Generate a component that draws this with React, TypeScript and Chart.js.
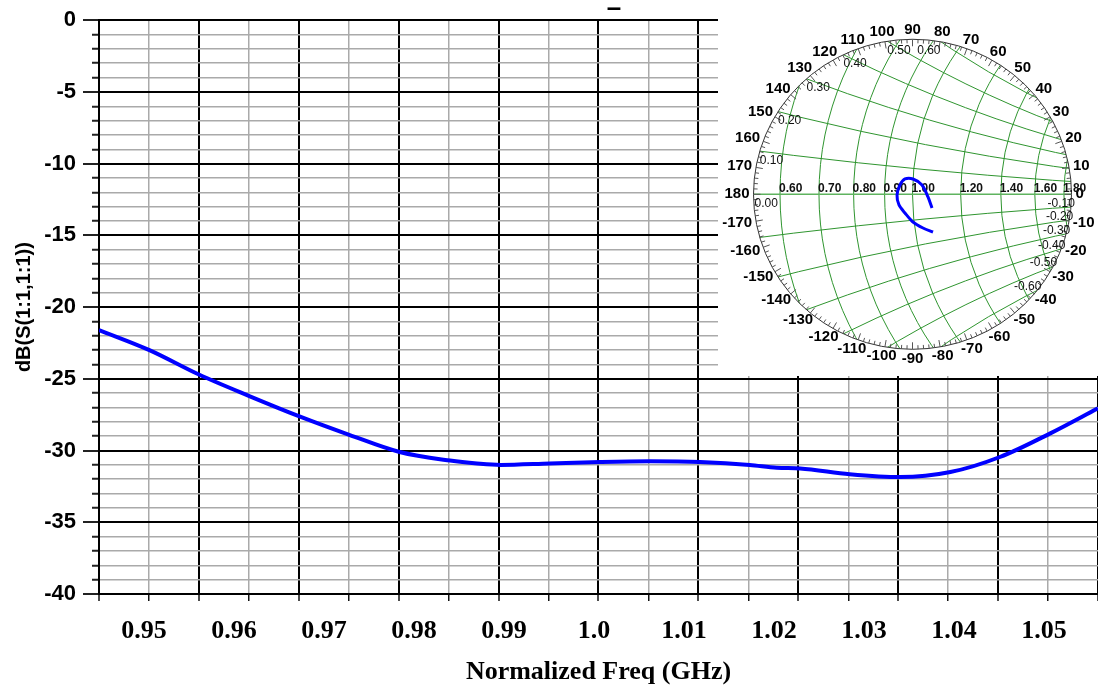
import React, { useEffect, useRef } from 'react';
import { Chart, registerables } from 'chart.js';

Chart.register(...registerables);

// ---- Main plot data: return loss vs normalized frequency ----
const freqGHz = [0.945, 0.9506, 0.9561, 0.9617, 0.9672, 0.9728, 0.9784, 0.984, 0.987, 0.9896, 0.9951, 1.0007, 1.0062, 1.0118, 1.0173, 1.0203, 1.0229, 1.0284, 1.034, 1.0396, 1.0451, 1.0507, 1.056];
const s11dB = [-21.6, -23.0, -24.7, -26.2, -27.6, -28.9, -30.1, -30.7, -30.9, -31.0, -30.9, -30.8, -30.75, -30.8, -31.0, -31.2, -31.25, -31.65, -31.85, -31.5, -30.45, -28.8, -27.05];

const xTickValues = [0.95, 0.96, 0.97, 0.98, 0.99, 1.0, 1.01, 1.02, 1.03, 1.04, 1.05];
const xTickLabels = ['0.95', '0.96', '0.97', '0.98', '0.99', '1.0', '1.01', '1.02', '1.03', '1.04', '1.05'];
const yMajorTicks = [0, -5, -10, -15, -20, -25, -30, -35, -40];
const X_MIN = 0.945;
const X_MAX = 1.056;
const Y_MIN = -40;
const Y_MAX = 0;

// ---- Smith chart inset data (reflection coefficient, real / imaginary) ----
const smithRe = [0.0387, 0.0198, 0.0009, -0.0142, -0.0255, -0.0292, -0.0236, -0.0142, 0.0009, 0.0179, 0.0292, 0.0368];
const smithIm = [-0.0730, -0.0652, -0.0536, -0.0362, -0.0207, -0.0014, 0.0180, 0.0296, 0.0296, 0.0180, -0.0052, -0.0265];
const resistanceValues = [0.6, 0.7, 0.8, 0.9, 1.0, 1.2, 1.4, 1.6, 1.8];
const resistanceLabels = ['0.60', '0.70', '0.80', '0.90', '1.00', '1.20', '1.40', '1.60', '1.80'];
const reactanceValues = [0.1, 0.2, 0.3, 0.4, 0.5, 0.6];
const reactanceLabels = ['0.10', '0.20', '0.30', '0.40', '0.50', '0.60'];
const SMITH_RIM = 0.3;

const SERIF = '"Liberation Serif", "Times New Roman", serif';
const SANS = '"Liberation Sans", Arial, sans-serif';

const topMarkPlugin = {
  id: 'topMark',
  afterDraw(chart: any) {
    const { ctx } = chart;
    ctx.save();
    ctx.fillStyle = '#000';
    ctx.font = `bold 26px ${SANS}`;
    ctx.textAlign = 'center';
    ctx.textBaseline = 'alphabetic';
    ctx.fillText('\u2013', 614, 16);
    ctx.restore();
  },
};

function rimIntersections(xv: number) {
  // circle of constant reactance meets |G| = RIM where u + v/x = (1 + RIM^2)/2
  const c = (1 + SMITH_RIM * SMITH_RIM) / 2;
  const a = SMITH_RIM;
  const b = SMITH_RIM / xv;
  const amp = Math.sqrt(a * a + b * b);
  const phi = Math.atan2(a, b);
  const s = Math.asin(Math.min(1, c / amp));
  return [s - phi, Math.PI - s - phi];
}

const smithGridPlugin = {
  id: 'smithGrid',
  beforeDraw(chart: any) {
    const { ctx, width, height } = chart;
    ctx.save();
    ctx.fillStyle = '#fff';
    ctx.fillRect(0, 0, width, height);
    ctx.restore();
  },
  beforeDatasetsDraw(chart: any) {
    const { ctx } = chart;
    const xs = chart.scales.x;
    const ys = chart.scales.y;
    const cx = xs.getPixelForValue(0);
    const cy = ys.getPixelForValue(0);
    const kx = xs.getPixelForValue(1) - cx;
    const ky = cy - ys.getPixelForValue(1);
    const P = (u: number, v: number) => [cx + u * kx, cy - v * ky];
    const Rx = SMITH_RIM * kx;
    const Ry = SMITH_RIM * ky;

    ctx.save();
    ctx.beginPath();
    ctx.ellipse(cx, cy, Rx, Ry, 0, 0, Math.PI * 2);
    ctx.clip();
    ctx.strokeStyle = '#2f952f';
    ctx.lineWidth = 1;
    resistanceValues.forEach((r) => {
      const [px, py] = P(r / (1 + r), 0);
      const rad = 1 / (1 + r);
      ctx.beginPath();
      ctx.ellipse(px, py, rad * kx, rad * ky, 0, 0, Math.PI * 2);
      ctx.stroke();
    });
    reactanceValues.forEach((xv) => {
      [xv, -xv].forEach((x) => {
        const [px, py] = P(1, 1 / x);
        const rad = 1 / Math.abs(x);
        ctx.beginPath();
        ctx.ellipse(px, py, rad * kx, rad * ky, 0, 0, Math.PI * 2);
        ctx.stroke();
      });
    });
    ctx.lineWidth = 1.6;
    ctx.strokeStyle = '#5fb35f';
    ctx.beginPath();
    ctx.moveTo(cx - Rx, cy);
    ctx.lineTo(cx + Rx, cy);
    ctx.stroke();
    ctx.restore();

    // rim and its ticks
    ctx.save();
    ctx.strokeStyle = '#333';
    ctx.lineWidth = 1;
    ctx.beginPath();
    ctx.ellipse(cx, cy, Rx, Ry, 0, 0, Math.PI * 2);
    ctx.stroke();
    ctx.strokeStyle = '#555';
    for (let d = 0; d < 360; d += 2) {
      const t = (d * Math.PI) / 180;
      const len = d % 10 === 0 ? 7 : 4;
      const c = Math.cos(t);
      const s = Math.sin(t);
      ctx.beginPath();
      ctx.moveTo(cx + Rx * c, cy - Ry * s);
      ctx.lineTo(cx + (Rx - len) * c, cy - (Ry - len) * s);
      ctx.stroke();
    }
    // angle labels
    ctx.fillStyle = '#000';
    ctx.font = `bold 15px ${SANS}`;
    ctx.textAlign = 'center';
    ctx.textBaseline = 'middle';
    for (let d = -170; d <= 180; d += 10) {
      const t = (d * Math.PI) / 180;
      const c = Math.cos(t);
      const s = Math.sin(t);
      const label = String(d);
      const w = ctx.measureText(label).width;
      const x = cx + (Rx + 4) * c + (c * w) / 2;
      const y = cy - (Ry + 4) * s - (s * 11) / 2;
      ctx.fillText(label, x, y);
    }
    // resistance labels
    ctx.font = `bold 12px ${SANS}`;
    ctx.fillStyle = '#111';
    ctx.textAlign = 'left';
    ctx.textBaseline = 'alphabetic';
    resistanceValues.forEach((r, i) => {
      const u = (r - 1) / (r + 1);
      const [px, py] = P(u, 0);
      ctx.fillText(resistanceLabels[i], px - 1, py - 2);
    });
    // reactance labels
    ctx.font = `12px ${SANS}`;
    ctx.fillText('0.00', cx - Rx + 1, cy + 13);
    reactanceValues.forEach((xv, i) => {
      const [t1, t2] = rimIntersections(xv);
      const tUpper = Math.max(t1, t2);
      const tRight = Math.min(Math.abs(t1), Math.abs(t2));
      const [pu, pv] = [SMITH_RIM * Math.cos(tUpper), SMITH_RIM * Math.sin(tUpper)];
      const [px, py] = P(pu, pv);
      ctx.textBaseline = 'top';
      ctx.textAlign = pu < 0 ? 'left' : 'right';
      ctx.fillText(reactanceLabels[i], px, py + 3);
      const [qx, qy] = P(SMITH_RIM * Math.cos(tRight), -SMITH_RIM * Math.sin(tRight));
      ctx.textAlign = 'right';
      ctx.textBaseline = 'alphabetic';
      ctx.fillText('-' + reactanceLabels[i], qx + 4, qy);
    });
    ctx.restore();
  },
};

export default function App() {
  const mainRef = useRef<HTMLCanvasElement | null>(null);
  const smithRef = useRef<HTMLCanvasElement | null>(null);

  useEffect(() => {
    if (!mainRef.current || !smithRef.current) return;
    const isMajorX = (i: number) => i % 2 === 0;
    const isMajorY = (v: number) => Math.abs(v % 5) < 1e-9;

    const main = new Chart(mainRef.current, {
      type: 'line',
      data: {
        datasets: [
          {
            data: freqGHz.map((f, i) => ({ x: f, y: s11dB[i] })),
            borderColor: '#0000ff',
            borderWidth: 4,
            pointRadius: 0,
            cubicInterpolationMode: 'monotone',
            xAxisID: 'x',
            yAxisID: 'y',
          },
        ],
      },
      options: {
        animation: false,
        responsive: true,
        maintainAspectRatio: false,
        layout: { padding: { top: 19, right: 0, left: 0, bottom: 0 } },
        plugins: { legend: { display: false }, tooltip: { enabled: false }, title: { display: false } },
        scales: {
          x: {
            type: 'linear',
            position: 'bottom',
            weight: 0,
            min: X_MIN,
            max: X_MAX,
            afterBuildTicks: (s: any) => {
              s.ticks = Array.from({ length: 21 }, (_, k) => ({ value: X_MIN + (k * (X_MAX - X_MIN)) / 20 }));
            },
            ticks: { display: false },
            grid: {
              color: (c: any) => (isMajorX(c.index) ? '#000' : '#aaaaaa'),
              lineWidth: (c: any) => (isMajorX(c.index) ? 2 : 1.5),
              tickLength: 7,
              tickColor: '#111',
              tickWidth: 1.5,
            },
            border: { color: '#000', width: 2 },
            afterFit: (s: any) => {
              s.height = 8;
            },
          },
          xl: {
            type: 'linear',
            position: 'bottom',
            weight: 1,
            min: X_MIN,
            max: X_MAX,
            afterBuildTicks: (s: any) => {
              s.ticks = xTickValues.map((v) => ({ value: v }));
            },
            ticks: {
              autoSkip: false,
              maxRotation: 0,
              padding: 14,
              color: '#000',
              font: { family: SERIF, size: 26, weight: 'bold' },
              callback: (v: any) => {
                const i = xTickValues.findIndex((t) => Math.abs(t - Number(v)) < 1e-9);
                return i >= 0 ? xTickLabels[i] : '';
              },
            },
            grid: { display: false, drawTicks: false },
            border: { display: false },
            title: {
              display: true,
              text: 'Normalized Freq (GHz)',
              color: '#000',
              font: { family: SERIF, size: 26, weight: 'bold' },
              padding: { top: 0, bottom: 0 },
            },
            afterFit: (s: any) => {
              s.height = 86;
            },
          },
          y: {
            type: 'linear',
            position: 'left',
            min: Y_MIN,
            max: Y_MAX,
            afterBuildTicks: (s: any) => {
              const t = [];
              for (let v = Y_MAX; v >= Y_MIN; v -= 1) t.push({ value: v });
              s.ticks = t;
            },
            ticks: {
              autoSkip: false,
              padding: 7,
              color: '#000',
              font: { family: SANS, size: 22, weight: 'bold' },
              callback: (v: any) => (yMajorTicks.includes(Number(v)) ? String(v) : ''),
            },
            grid: {
              color: (c: any) => (c.tick && isMajorY(c.tick.value) ? '#000' : '#aaaaaa'),
              lineWidth: (c: any) => (c.tick && isMajorY(c.tick.value) ? 2 : 1.5),
              tickLength: 16,
              tickColor: '#222',
              tickWidth: 2,
              tickBorderDash: (c: any) => (c.tick && isMajorY(c.tick.value) ? [] : [0, 9, 7]),
            },
            border: { color: '#000', width: 2 },
            title: {
              display: true,
              text: 'dB(S(1:1,1:1))',
              color: '#000',
              font: { family: SANS, size: 20, weight: 'bold' },
              padding: { top: 12, bottom: 0 },
            },
            afterFit: (s: any) => {
              s.width = 99;
            },
          },
        },
      } as any,
      plugins: [topMarkPlugin],
    });

    const smith = new Chart(smithRef.current, {
      type: 'scatter',
      data: {
        datasets: [
          {
            data: smithRe.map((r, i) => ({ x: r, y: smithIm[i] })),
            showLine: true,
            borderColor: '#0000ff',
            borderWidth: 3,
            pointRadius: 0,
            tension: 0.3,
          },
        ],
      },
      options: {
        animation: false,
        responsive: true,
        maintainAspectRatio: false,
        layout: { padding: 0 },
        plugins: { legend: { display: false }, tooltip: { enabled: false } },
        scales: {
          x: { type: 'linear', display: false, min: -0.367, max: 0.350 },
          y: { type: 'linear', display: false, min: -0.3517, max: 0.376 },
        },
      } as any,
      plugins: [smithGridPlugin],
    });

    return () => {
      main.destroy();
      smith.destroy();
    };
  }, []);

  return (
    <div style={{ position: 'fixed', left: 0, top: 0, width: 1098, height: 688, background: '#fff' }}>
      <div style={{ position: 'absolute', left: 0, top: 0, width: 1098, height: 688 }}>
        <canvas ref={mainRef} />
      </div>
      <div style={{ position: 'absolute', left: 718, top: 0, width: 380, height: 376 }}>
        <canvas ref={smithRef} />
      </div>
    </div>
  );
}
